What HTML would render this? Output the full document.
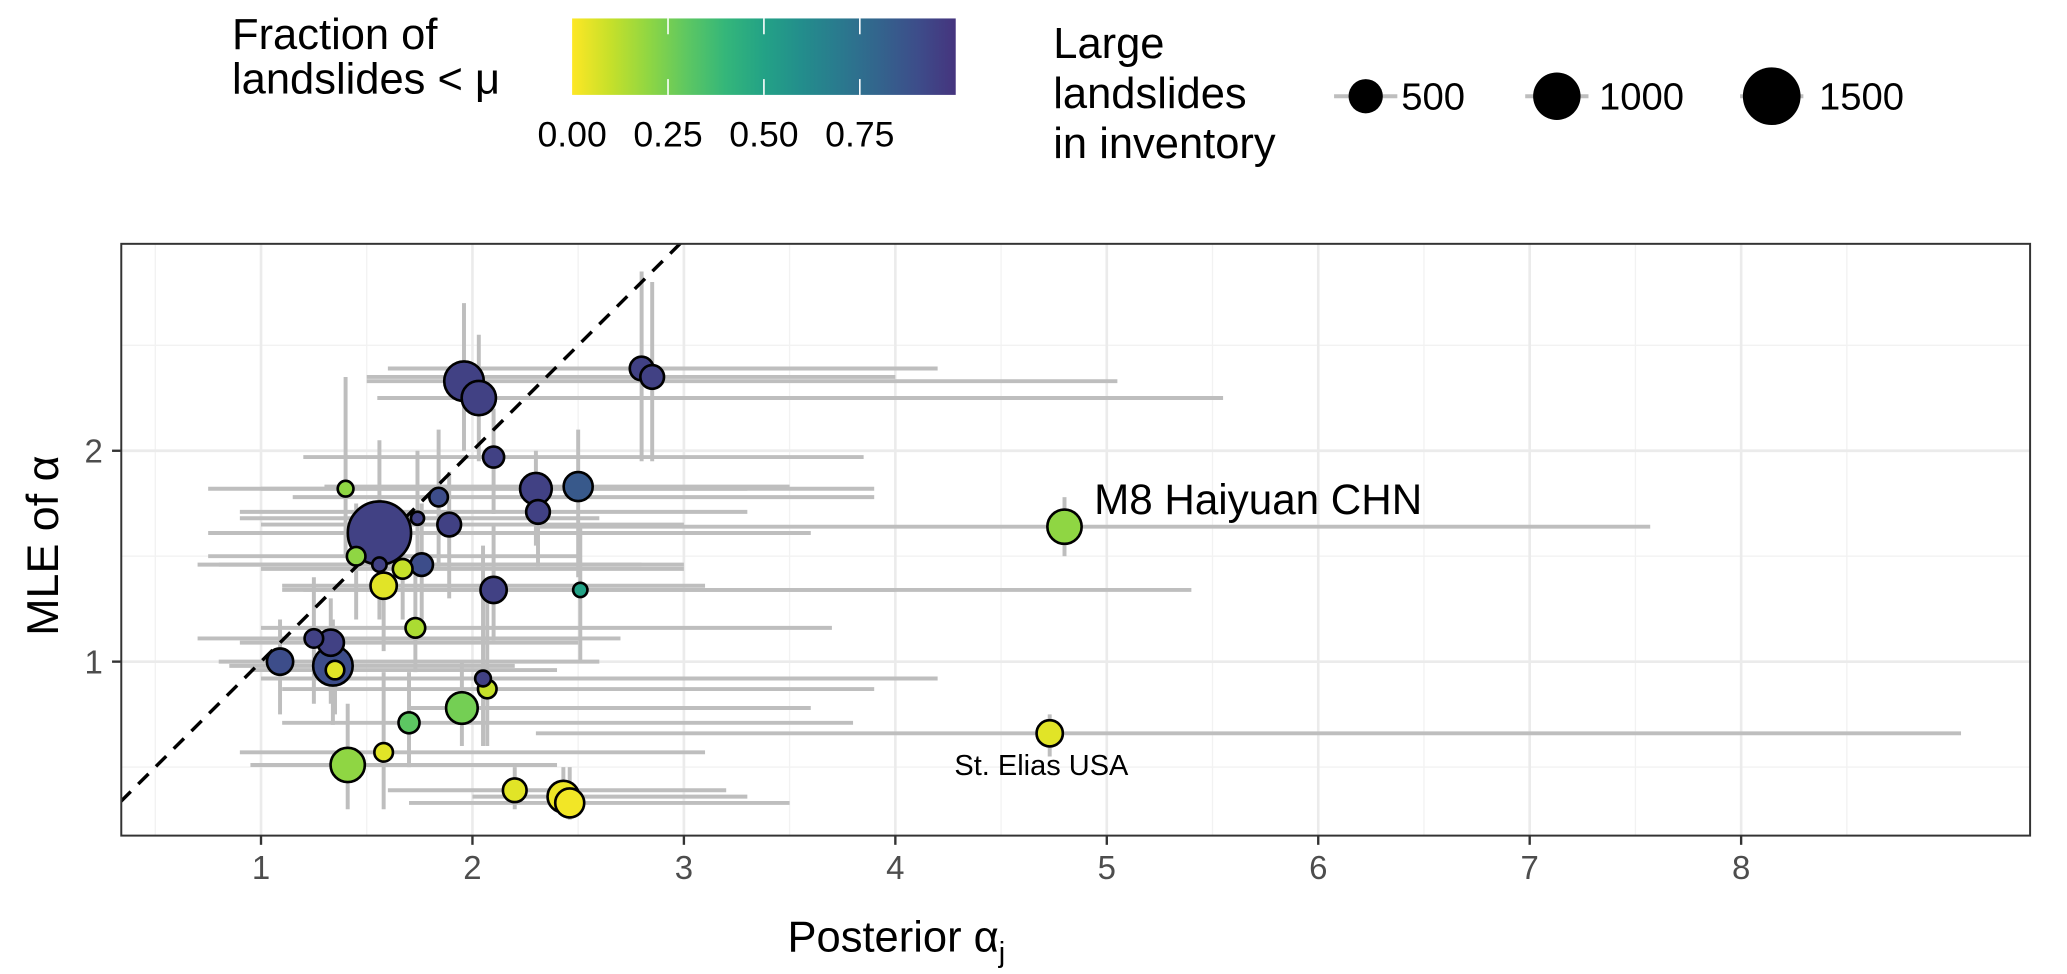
<!DOCTYPE html>
<html><head><meta charset="utf-8"><style>
html,body{margin:0;padding:0;background:#fff;}
svg{display:block;font-family:"Liberation Sans",sans-serif;}
</style></head><body>
<svg id="chart" width="2067" height="974" viewBox="0 0 1568 739" preserveAspectRatio="none" xmlns="http://www.w3.org/2000/svg">
<defs>
<linearGradient id="vir" x1="0" x2="1" y1="0" y2="0"></linearGradient>
<clipPath id="panelclip"><rect x="92" y="185" width="1448" height="449"/></clipPath>
</defs>
<g>
<text x="176" y="37" font-size="33" fill="#000">Fraction of</text>
<text x="176" y="71" font-size="33" fill="#000">landslides &lt; μ</text>
<rect x="434" y="14" width="291" height="58" fill="url(#vir)"/>
<g id="cbticks"></g>
</g>
<g>
<text x="799" y="44" font-size="33">Large</text>
<text x="799" y="82" font-size="33">landslides</text>
<text x="799" y="120" font-size="33">in inventory</text>
<g id="sizeleg"></g>
</g>
<g id="grid"></g>
<g id="bars" clip-path="url(#panelclip)"></g>
<g id="diag" clip-path="url(#panelclip)"></g>
<g id="points" clip-path="url(#panelclip)"></g>
<g id="axes"></g>
<text x="830" y="390" font-size="32">M8 Haiyuan CHN</text>
<text x="790" y="588" font-size="22" text-anchor="middle">St. Elias USA</text>
<text x="680" y="722" font-size="33" text-anchor="middle">Posterior α<tspan font-size="22" dy="8">j</tspan></text>
<text transform="translate(44,414) rotate(-90)" font-size="34" text-anchor="middle">MLE of α</text>
</svg>
<script>
const postAlpha = [1.96,2.03,2.10,2.80,2.85,1.40,1.84,2.30,2.50,2.31,1.56,1.74,1.89,1.45,1.56,1.67,1.76,1.58,2.10,2.51,1.73,1.25,1.33,1.09,1.34,1.35,2.05,2.07,1.95,1.70,1.41,1.58,2.20,2.43,2.46,4.80,4.73];
const mleAlpha = [2.33,2.25,1.97,2.39,2.35,1.82,1.78,1.82,1.83,1.71,1.61,1.68,1.65,1.50,1.46,1.44,1.46,1.36,1.34,1.34,1.16,1.11,1.09,1.00,0.98,0.96,0.92,0.87,0.78,0.71,0.51,0.57,0.39,0.36,0.33,1.64,0.66];
const postLo = [1.5,1.55,1.2,1.6,1.5,0.75,1.15,1.0,1.3,0.9,0.75,0.9,1.0,0.75,0.8,1.0,0.7,1.1,1.1,1.2,1.0,0.7,0.9,0.8,0.85,0.95,1.0,1.1,1.7,1.1,0.95,0.9,1.6,2.0,1.7,2.3,2.3];
const postHi = [5.05,5.55,3.85,4.2,4.0,3.3,3.9,3.9,3.5,3.3,3.6,2.6,3.0,2.5,2.8,3.0,3.0,3.1,4.0,5.4,3.7,2.7,2.5,2.6,2.2,2.4,4.2,3.9,3.6,3.8,2.4,3.1,3.2,3.3,3.5,7.57,9.04];
const mleLo = [2.0,1.95,1.7,1.95,1.95,1.5,1.45,1.55,1.4,1.45,1.3,1.4,1.3,1.2,1.2,1.2,1.2,1.05,1.1,1.0,0.95,0.8,0.8,0.75,0.7,0.75,0.6,0.6,0.6,0.5,0.3,0.3,0.3,0.3,0.25,1.5,0.55];
const mleHi = [2.7,2.55,2.2,2.85,2.8,2.35,2.1,2.0,2.1,1.9,2.05,2.0,1.9,1.75,1.7,1.65,1.75,1.6,1.65,1.65,1.5,1.4,1.3,1.2,1.2,1.15,1.55,1.3,1.0,0.95,0.8,0.95,0.5,0.5,0.5,1.78,0.75];
const nLarge = [680,500,160,215,215,70,115,420,345,215,1810,35,215,115,50,135,190,275,275,50,135,115,275,275,680,115,70,115,420,160,500,115,215,420,345,500,275];
const fracBelow = [0.95,0.95,0.95,0.95,0.95,0.2,0.9,0.95,0.85,0.95,0.95,0.95,0.95,0.2,0.95,0.1,0.9,0.05,0.95,0.5,0.15,0.95,0.95,0.9,0.9,0.05,0.95,0.1,0.25,0.3,0.2,0.05,0.05,0.03,0.02,0.2,0.05];
const xTicks = [1,2,3,4,5,6,7,8];
const yTicks = [1,2];
const cbTicks = [0,0.25,0.5,0.75];
const cbLabels = ["0.00","0.25","0.50","0.75"];
const sizeLegend = [500,1000,1500];

const NS="http://www.w3.org/2000/svg";
const px = v => 37.6 + 160.4*v;
const py = v => 662 - 160*v;
const rad = n => Math.sqrt(14 + 0.31*n);
const cbx = v => 434 + 291*v;
const VIR=[[253,231,37],[181,222,43],[110,206,88],[53,183,121],[31,158,137],[38,130,142],[49,104,142],[62,74,137],[72,40,120],[68,1,84]];
function vir(f){f=Math.max(0,Math.min(1,f))*0.85;const s=f*(VIR.length-1);const i=Math.min(Math.floor(s),VIR.length-2);const t=s-i;const c=VIR[i].map((a,k)=>Math.round(a+(VIR[i+1][k]-a)*t));return `rgb(${c})`;}
function mk(tag,attrs,parent){const e=document.createElementNS(NS,tag);for(const k in attrs)e.setAttribute(k,attrs[k]);parent.appendChild(e);return e;}
const g=document.getElementById('grid'),bars=document.getElementById('bars'),pts=document.getElementById('points'),ax=document.getElementById('axes'),diag=document.getElementById('diag');

const grad=document.getElementById('vir');
for(let i=0;i<=10;i++){mk('stop',{offset:i/10,'stop-color':vir(i/10)},grad);}
const cbt=document.getElementById('cbticks');
cbTicks.forEach((v,i)=>{
 if(v>0){const t1=mk('line',{x1:cbx(v),x2:cbx(v),y1:14,y2:26,stroke:'#fff','stroke-width':1.2},cbt);
 
 
 const t2=mk('line',{x1:cbx(v),x2:cbx(v),y1:60,y2:72,stroke:'#fff','stroke-width':1.2},cbt);
 
 }
 const tx=mk('text',{x:cbx(v),y:111,'font-size':27,'text-anchor':'middle',fill:'#000'},cbt);tx.textContent=cbLabels[i];
 
 
});
const sl=document.getElementById('sizeleg');
const slx=[1036,1181,1344];
sizeLegend.forEach((n,i)=>{
 const l=mk('line',{x1:slx[i]-24,x2:slx[i]+24,y1:73,y2:73,stroke:'#bebebe','stroke-width':3},sl);
 
 
 const c=mk('circle',{cx:slx[i],cy:73,r:rad(n),fill:'#000'},sl);
 
 
 const t=mk('text',{x:slx[i]+rad(n)+14,y:83,'font-size':29},sl);t.textContent=n;
 
 
});
mk('rect',{x:92,y:185,width:1448,height:449,fill:'#fff'},g);
for(let v=0.5;v<=9.5;v+=1){if(px(v)>92&&px(v)<1540)mk('line',{x1:px(v),x2:px(v),y1:185,y2:634,stroke:'#f2f2f2','stroke-width':1},g);}
[0.5,1.5,2.5].forEach(v=>mk('line',{x1:92,x2:1540,y1:py(v),y2:py(v),stroke:'#f2f2f2','stroke-width':1},g));
xTicks.forEach(v=>{const l=mk('line',{x1:px(v),x2:px(v),y1:185,y2:634,stroke:'#ebebeb','stroke-width':2},g);
 
 });
yTicks.forEach(v=>{const l=mk('line',{x1:92,x2:1540,y1:py(v),y2:py(v),stroke:'#ebebeb','stroke-width':2},g);
 
 });
postAlpha.forEach((x,i)=>{
 const h=mk('line',{x1:px(postLo[i]),x2:px(postHi[i]),y1:py(mleAlpha[i]),y2:py(mleAlpha[i]),stroke:'#bebebe','stroke-width':3},bars);
 
 
 const v=mk('line',{x1:px(x),x2:px(x),y1:py(mleLo[i]),y2:py(mleHi[i]),stroke:'#bebebe','stroke-width':3},bars);
 
 
});
const d=mk('line',{x1:px(0),y1:py(0),x2:px(3.2),y2:py(3.2),stroke:'#000','stroke-width':2.6,'stroke-dasharray':'11,8'},diag);


const order=postAlpha.map((_,i)=>i).sort((a,b)=>nLarge[b]-nLarge[a]);
order.forEach(i=>{
 const c=mk('circle',{cx:px(postAlpha[i]),cy:py(mleAlpha[i]),r:rad(nLarge[i]),fill:vir(fracBelow[i]),stroke:'#000','stroke-width':2},pts);
 
 
});
const b=mk('rect',{x:92,y:185,width:1448,height:449,fill:'none',stroke:'#333','stroke-width':1.5},ax);


xTicks.forEach(v=>{mk('line',{x1:px(v),x2:px(v),y1:634,y2:641,stroke:'#333','stroke-width':1.8},ax);
 const t=mk('text',{x:px(v),y:667,'font-size':25,'text-anchor':'middle',fill:'#4d4d4d'},ax);t.textContent=v;
 
 });
yTicks.forEach(v=>{mk('line',{x1:85,x2:92,y1:py(v),y2:py(v),stroke:'#333','stroke-width':1.8},ax);
 const t=mk('text',{x:78,y:py(v)+9,'font-size':25,'text-anchor':'end',fill:'#4d4d4d'},ax);t.textContent=v;
 
 });
</script>
</body></html>
